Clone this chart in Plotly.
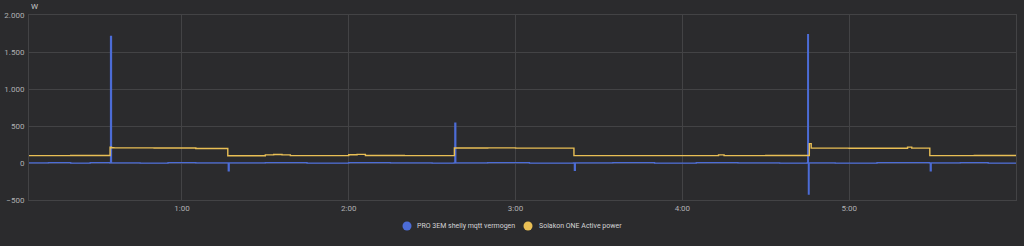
import plotly.graph_objects as go

DAY = "2024-01-01 "

# Solakon ONE Active power (W) - step values at change times
sol_times = ["00:05:00", "00:20:00", "00:34:10", "00:34:40", "00:35:30", "00:50:00", "01:05:00", "01:16:30",
             "01:30:00", "01:33:00", "01:36:00", "01:39:00", "02:00:00", "02:03:00", "02:06:00",
             "02:20:00", "02:38:00", "02:50:00", "03:00:00", "03:21:00", "03:40:00", "04:13:00",
             "04:15:00", "04:30:00", "04:45:00", "04:45:40", "04:46:20", "05:00:00", "05:21:00", "05:22:30",
             "05:29:00", "05:45:00", "06:00:00"]
sol_vals = [100, 102, 212, 207, 205, 202, 196, 98,
            110, 114, 110, 100, 112, 116, 101,
            99, 203, 205, 201, 100, 99, 110,
            100, 101, 101, 262, 201, 200, 214, 201,
            99, 101, 100]

# PRO 3EM shelly mqtt vermogen (W)
pro_times = ["00:05:00", "00:12:00", "00:20:00", "00:27:00", "00:34:00", "00:34:20", "00:34:40",
             "00:45:00", "00:55:00", "01:05:00", "01:16:20", "01:16:40", "01:17:00", "01:30:00",
             "01:45:00", "02:00:00", "02:15:00", "02:30:00", "02:37:50", "02:38:10", "02:38:30",
             "02:50:00", "03:05:00", "03:20:50", "03:21:10", "03:21:30", "03:35:00", "03:50:00",
             "04:05:00", "04:20:00", "04:35:00", "04:44:50", "04:45:05", "04:45:20", "04:45:35",
             "04:55:00", "05:10:00", "05:28:50", "05:29:10", "05:29:30", "05:40:00", "05:50:00",
             "06:00:00"]
pro_vals = [2, 4, -2, 5, 3, 1710, 2,
            -3, 4, 2, 3, -105, 2, 5,
            -2, 4, 2, -3, 3, 540, 2,
            4, -2, 3, -100, 2, 5, -3,
            4, 2, -2, 3, 1735, -420, 3,
            -2, 4, 2, -105, 3, 4, -2,
            2]

series_names = ["PRO 3EM shelly mqtt vermogen", "Solakon ONE Active power"]

BLUE = "#4c6cd6"
YELLOW = "#e9bf55"
BG = "#2b2b2d"
GRID = "#434345"
TXT = "#b0b0b2"
colors = [BLUE, YELLOW]

fig = go.Figure()
fig.add_trace(go.Scatter(x=[DAY + t for t in pro_times], y=pro_vals, mode="lines",
                         line=dict(color=BLUE, width=1.3, shape="hv"), showlegend=False,
                         name=series_names[0]))
fig.add_trace(go.Scatter(x=[DAY + t for t in sol_times], y=sol_vals, mode="lines",
                         line=dict(color=YELLOW, width=1.4, shape="hv"), showlegend=False,
                         name=series_names[1]))

# custom legend (circle + label), positioned like the original
legend_circle_x = [0.38298, 0.50557]
legend_text_x = [0.3911, 0.5147]
legend_y = -0.1405
shapes = []
annotations = [dict(text="W", xref="paper", yref="paper", x=0.0, y=1.0, xanchor="left",
                    yanchor="bottom", showarrow=False, font=dict(size=8, color="#c8c8ca"),
                    xshift=0, yshift=2)]
for name, col, cx, tx in zip(series_names, colors, legend_circle_x, legend_text_x):
    shapes.append(dict(type="circle", xref="paper", yref="paper", xsizemode="pixel", ysizemode="pixel",
                       xanchor=cx, yanchor=legend_y, x0=-4.5, x1=4.5, y0=-4.5, y1=4.5,
                       fillcolor=col, line=dict(width=0)))
    annotations.append(dict(text=name, xref="paper", yref="paper", x=tx, y=legend_y,
                            xanchor="left", yanchor="middle", showarrow=False,
                            font=dict(size=7, color="#d4d4d6")))

fig.update_layout(
    width=1024, height=246,
    margin=dict(l=29, r=8, t=15, b=46, autoexpand=False),
    paper_bgcolor=BG, plot_bgcolor=BG,
    separators=",.",
    font=dict(family="Roboto", size=8, color=TXT),
    showlegend=False,
    xaxis=dict(range=[DAY + "00:05:00", DAY + "06:00:00"], type="date", automargin=False,
               tickformat="%-H:%M", dtick=3600000, tick0=DAY + "00:00:00",
               showgrid=True, gridcolor=GRID, gridwidth=1,
               showline=True, linecolor=GRID, mirror=True, ticks="", zeroline=False,
               tickfont=dict(size=8, color=TXT)),
    yaxis=dict(range=[-500, 2000], dtick=500, tickformat=",d", automargin=False,
               showgrid=True, gridcolor=GRID, gridwidth=1,
               showline=True, linecolor=GRID, mirror=True, ticks="", zeroline=False,
               tickfont=dict(size=8, color=TXT), ticklabelstandoff=2),
    shapes=shapes,
    annotations=annotations,
)

fig.write_html("out.html")
